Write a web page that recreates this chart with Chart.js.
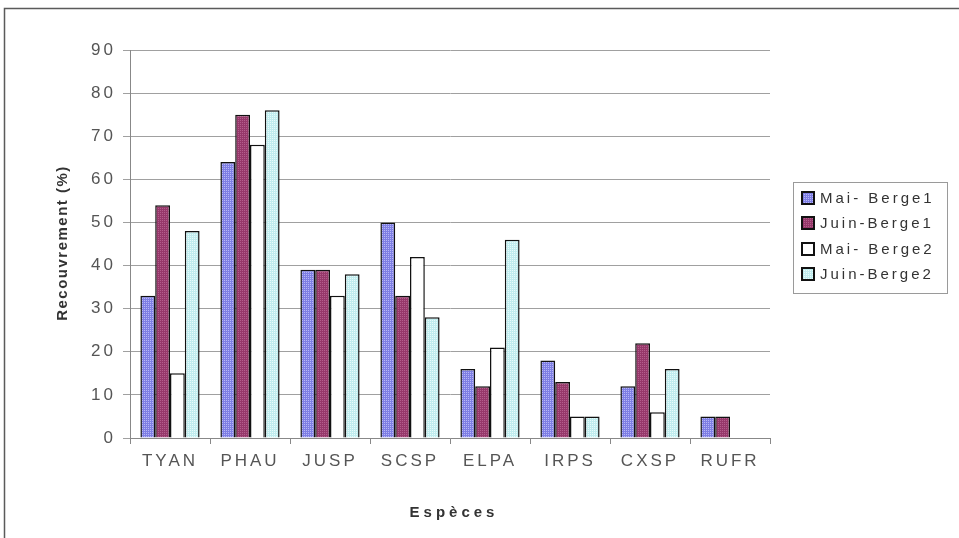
<!DOCTYPE html>
<html>
<head>
<meta charset="utf-8">
<script src="https://cdn.jsdelivr.net/npm/chart.js@4"></script>
<style>
html,body{margin:0;padding:0;background:#fff;}
#wrap{width:959px;height:538px;position:relative;}
</style>
</head>
<body>
<div id="wrap"><canvas id="c" width="959" height="538"></canvas></div>
<script>
const categories = ['TYAN','PHAU','JUSP','SCSP','ELPA','IRPS','CXSP','RUFR'];
const seriesNames = ['Mai- Berge1','Juin-Berge1','Mai- Berge2','Juin-Berge2'];
const maiBerge1  = [33, 64, 39, 50, 16, 18, 12, 5];
const juinBerge1 = [54, 75, 39, 33, 12, 13, 22, 5];
const maiBerge2  = [15, 68, 33, 42, 21, 5, 6, 0];
const juinBerge2 = [48, 76, 38, 28, 46, 5, 16, 0];
const yTicks = [0,10,20,30,40,50,60,70,80,90];

function makePattern(base, dot){
  const c = document.createElement('canvas');
  c.width = 2; c.height = 2;
  const x = c.getContext('2d');
  x.fillStyle = base; x.fillRect(0,0,2,2);
  x.fillStyle = dot; x.fillRect(0,0,1,1);
  return document.createElement('canvas').getContext('2d').createPattern(c,'repeat');
}
const fills = [
  makePattern('#7e7ee4', '#b8b8f6'),
  makePattern('#96386a', '#b45e8c'),
  '#ffffff',
  makePattern('#c0ecee', '#e8fbfb')
];
const seriesData = [maiBerge1, juinBerge1, maiBerge2, juinBerge2];

const decor = {
  id: 'decor',
  beforeDraw(chart){
    const ctx = chart.ctx;
    ctx.save();
    ctx.fillStyle = '#fff';
    ctx.fillRect(0,0,chart.width,chart.height);
    ctx.restore();
    ctx.letterSpacing = '3px';
  },
  afterDraw(chart){
    const ctx = chart.ctx;
    ctx.save();
    // outer frame
    ctx.strokeStyle = '#5a5a5a';
    ctx.lineWidth = 1.5;
    ctx.strokeRect(4.5, 8.5, 1000, 600);
    // y title
    ctx.fillStyle = '#333';
    ctx.font = 'bold 15px "Liberation Sans", Arial, sans-serif';
    ctx.letterSpacing = '1.5px';
    ctx.textAlign = 'center';
    ctx.textBaseline = 'middle';
    ctx.save();
    ctx.translate(63, 243);
    ctx.rotate(-Math.PI/2);
    ctx.fillText('Recouvrement (%)', 0, 0);
    ctx.restore();
    // x title
    ctx.letterSpacing = '4px';
    ctx.fillText('Espèces', 454, 513);
    // legend
    ctx.letterSpacing = '0px';
    ctx.strokeStyle = '#9a9a9a';
    ctx.lineWidth = 1;
    ctx.strokeRect(793.5, 182.5, 154, 111);
    const rows = [198, 223, 249, 274];
    ctx.font = '15px "Liberation Sans", Arial, sans-serif';
    ctx.letterSpacing = '3px';
    ctx.textAlign = 'left';
    chart.data.datasets.forEach((ds, i) => {
      const y = rows[i];
      ctx.fillStyle = ds.backgroundColor;
      ctx.fillRect(802, y-6, 12, 12);
      ctx.strokeStyle = '#111';
      ctx.lineWidth = 2;
      ctx.strokeRect(802, y-6, 12, 12);
      ctx.fillStyle = '#333';
      ctx.fillText(ds.label, 820, y+1);
    });
    ctx.restore();
    ctx.letterSpacing = '0px';
  }
};

new Chart(document.getElementById('c'), {
  type: 'bar',
  data: {
    labels: categories,
    datasets: seriesNames.map((n, i) => ({
      label: n,
      data: seriesData[i],
      backgroundColor: fills[i],
      borderColor: '#111',
      borderWidth: 1.5,
      borderSkipped: 'start',
      categoryPercentage: 0.74,
      barPercentage: 1.0
    }))
  },
  options: {
    responsive: false,
    animation: false,
    events: [],
    layout: { padding: { top: 50, right: 189, left: 0, bottom: 0 } },
    plugins: { legend: { display: false }, tooltip: { enabled: false } },
    scales: {
      x: {
        afterFit(s){ s.height = 100; },
        grid: { drawOnChartArea: false, drawTicks: true, tickLength: 6, color: '#888', offset: true },
        border: { display: true, color: '#888', width: 1 },
        ticks: { color: '#555', font: { family: '"Liberation Sans", Arial, sans-serif', size: 17 }, padding: 7, maxRotation: 0 }
      },
      y: {
        min: 0, max: 90,
        afterFit(s){ s.width = 130; },
        afterBuildTicks(s){ s.ticks = yTicks.map(v => ({ value: v })); },
        grid: { color: '#a0a0a0', lineWidth: 1, drawTicks: true, tickLength: 7 },
        border: { display: true, color: '#888', width: 1 },
        ticks: { color: '#555', font: { family: '"Liberation Sans", Arial, sans-serif', size: 17 }, padding: 7 }
      }
    }
  },
  plugins: [decor]
});
</script>
</body>
</html>
